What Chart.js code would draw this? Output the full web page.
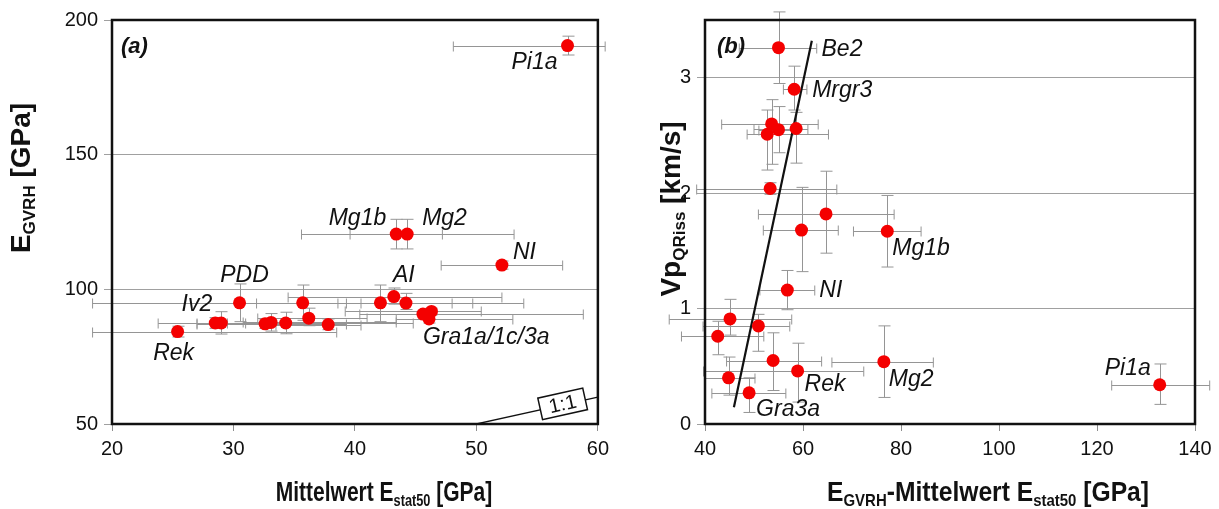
<!DOCTYPE html>
<html>
<head>
<meta charset="utf-8">
<script src="https://cdn.jsdelivr.net/npm/chart.js@4.4.1/dist/chart.umd.min.js"></script>
<style>
  body { margin: 0; background: #fff; }
  .panel { position: absolute; top: 0; height: 509px; }
</style>
</head>
<body>
<div class="panel" style="left:0;width:615px"><canvas id="chartA" width="615" height="509"></canvas></div>
<div class="panel" style="left:610px;width:609px"><canvas id="chartB" width="609" height="509"></canvas></div>

<script>
// ---- panel (a): E_GVRH gegen Mittelwert E_stat50 ----
const xA   = [57.5, 43.4, 44.3, 52.1, 43.2, 30.5, 35.7, 42.1, 44.2, 45.6, 46.3, 46.1, 28.5, 29.0, 32.6, 33.1, 34.3, 36.2, 37.8, 25.4];
const yA   = [190.5, 120.5, 120.5, 109.0, 97.3, 95.0, 95.0, 95.0, 94.9, 90.8, 91.8, 89.0, 87.5, 87.5, 87.2, 87.7, 87.5, 89.3, 86.9, 84.3];
const xLoA = [48.1, 39.6, 35.6, 47.1, 34.5, 18.4, 31.9, 39.3, 40.5, 40.4, 39.2, 43.4, 23.8, 27.0, 27.0, 30.8, 29.5, 32.0, 33.5, 18.4];
const xHiA = [60.6, 47.2, 53.1, 57.1, 52.1, 38.6, 49.7, 53.9, 48.0, 58.8, 50.4, 53.0, 34.5, 31.0, 39.3, 43.4, 44.8, 41.0, 40.5, 38.5];
const yLoA = [187, 115, 115, 107.5, 94.5, 88, 88.5, 88, 92.5, 89.5, 90.5, 87.5, 85.5, 83.4, 85.5, 84.5, 83.5, 86.5, 85, 82.3];
const yHiA = [194, 126, 126, 110.5, 100.5, 102, 101.6, 101.6, 98.5, 92, 93, 90.5, 89.5, 91.7, 89, 91, 91.5, 93, 89, 86.3];
const oneX = [50, 60];
const oneY = [50, 60];

// ---- panel (b): Vp_QRiss gegen E_GVRH - Mittelwert E_stat50 ----
const xB   = [55.0, 58.2, 53.6, 52.7, 55.0, 58.6, 53.3, 64.7, 59.7, 77.2, 56.8, 45.1, 42.6, 50.9, 53.9, 58.9, 76.5, 44.8, 49.0, 132.8];
const yB   = [3.26, 2.90, 2.60, 2.51, 2.55, 2.56, 2.04, 1.82, 1.68, 1.67, 1.16, 0.91, 0.76, 0.85, 0.55, 0.46, 0.54, 0.40, 0.27, 0.34];
const xLoB = [47.0, 56.0, 43.4, 48.6, 51.0, 50.0, 38.3, 50.9, 51.9, 70.3, 51.2, 32.7, 35.2, 39.6, 44.4, 39.7, 65.9, 40.0, 41.4, 123.0];
const xHiB = [62.8, 60.8, 63.1, 65.2, 58.0, 61.0, 66.9, 78.6, 67.2, 84.1, 62.4, 57.7, 52.0, 57.3, 63.8, 72.4, 86.6, 50.2, 56.5, 143.0];
const yLoB = [2.95, 2.72, 2.25, 2.20, 2.35, 2.26, 1.99, 1.48, 1.32, 1.36, 0.99, 0.77, 0.60, 0.63, 0.29, 0.19, 0.23, 0.25, 0.10, 0.17];
const yHiB = [3.57, 3.10, 2.81, 2.72, 2.75, 2.70, 2.09, 2.19, 2.05, 1.98, 1.33, 1.08, 0.89, 0.95, 0.79, 0.70, 0.85, 0.58, 0.40, 0.52];
const fitX = [45.9, 61.8];
const fitY = [0.145, 3.32];

// Beschriftungen (Index des Punktes + Versatz in px)
const labelsA = [
  { i: 0,  t: 'Pi1a', dx: -10, dy: 17, align: 'right' },
  { i: 1,  t: 'Mg1b', dx: -10, dy: -16, align: 'right' },
  { i: 2,  t: 'Mg2', dx: 15, dy: -16, align: 'left' },
  { i: 3,  t: 'NI', dx: 11, dy: -12, align: 'left' },
  { i: 4,  t: 'AI', dx: 10, dy: -21, align: 'center' },
  { i: 5,  t: 'PDD', dx: 5, dy: -27, align: 'center' },
  { i: 12, t: 'Iv2', dx: -3, dy: -18, align: 'right' },
  { i: 19, t: 'Rek', dx: -4, dy: 22, align: 'center' },
  { i: 9,  t: 'Gra1a/1c/3a', dx: 0, dy: 23, align: 'left' }
];
const labelsB = [
  { i: 0,  t: 'Be2', dx: 43, dy: 2, align: 'left' },
  { i: 1,  t: 'Mrgr3', dx: 18, dy: 1, align: 'left' },
  { i: 9,  t: 'Mg1b', dx: 5, dy: 17, align: 'left' },
  { i: 10, t: 'NI', dx: 32, dy: 1, align: 'left' },
  { i: 15, t: 'Rek', dx: 7, dy: 14, align: 'left' },
  { i: 16, t: 'Mg2', dx: 5, dy: 18, align: 'left' },
  { i: 18, t: 'Gra3a', dx: 7, dy: 17, align: 'left' },
  { i: 19, t: 'Pi1a', dx: -9, dy: -16, align: 'right' }
];

const FONT = "'Liberation Sans', Arial, sans-serif";

function pts(xs, ys) {
  return xs.map((v, i) => ({ x: v, y: ys[i] }));
}

// Fehlerbalken mit den Skalen der Grafik zeichnen
function errorBars(xs, ys, xLo, xHi, yLo, yHi) {
  return {
    id: 'errorBars',
    beforeDatasetsDraw(chart) {
      const ctx = chart.ctx, sx = chart.scales.x, sy = chart.scales.y;
      ctx.save();
      ctx.strokeStyle = '#959595';
      ctx.lineWidth = 1;
      ctx.beginPath();
      xs.forEach((v, i) => {
        const px = Math.round(sx.getPixelForValue(v)) + 0.5;
        const py = Math.round(sy.getPixelForValue(ys[i])) + 0.5;
        const l = sx.getPixelForValue(xLo[i]), r = sx.getPixelForValue(xHi[i]);
        const t = sy.getPixelForValue(yHi[i]), b = sy.getPixelForValue(yLo[i]);
        ctx.moveTo(l, py); ctx.lineTo(r, py);
        ctx.moveTo(l, py - 5); ctx.lineTo(l, py + 5);
        ctx.moveTo(r, py - 5); ctx.lineTo(r, py + 5);
        ctx.moveTo(px, t); ctx.lineTo(px, b);
        ctx.moveTo(px - 6, t); ctx.lineTo(px + 6, t);
        ctx.moveTo(px - 6, b); ctx.lineTo(px + 6, b);
      });
      ctx.stroke();
      ctx.restore();
    }
  };
}

function pointLabels(xs, ys, list) {
  return {
    id: 'pointLabels',
    afterDatasetsDraw(chart) {
      const ctx = chart.ctx;
      ctx.save();
      ctx.font = 'italic 23px ' + FONT;
      ctx.fillStyle = '#111';
      ctx.textBaseline = 'middle';
      list.forEach(l => {
        const px = chart.scales.x.getPixelForValue(xs[l.i]);
        const py = chart.scales.y.getPixelForValue(ys[l.i]);
        ctx.textAlign = l.align;
        ctx.fillText(l.t, px + l.dx, py + l.dy);
      });
      ctx.restore();
    }
  };
}

// Text mit Tiefstellung (E_GVRH usw.)
function drawRich(ctx, parts, cx, cy, rot, squash) {
  const big = 'bold 28px ' + FONT, small = 'bold 17px ' + FONT;
  let w = 0;
  const widths = parts.map(p => {
    ctx.font = p.sub ? small : big;
    const m = ctx.measureText(p.t).width;
    w += m;
    return m;
  });
  ctx.save();
  ctx.translate(cx, cy);
  ctx.rotate(rot);
  ctx.scale(squash, 1);
  ctx.fillStyle = '#111';
  ctx.textBaseline = 'middle';
  ctx.textAlign = 'left';
  let x = -w / 2;
  parts.forEach((p, i) => {
    ctx.font = p.sub ? small : big;
    ctx.fillText(p.t, x, p.sub ? 8 : 0);
    x += widths[i];
  });
  ctx.restore();
}

function frameTitles(cfg) {
  return {
    id: 'frameTitles',
    afterDraw(chart) {
      const ctx = chart.ctx, a = chart.chartArea;
      ctx.save();
      ctx.strokeStyle = '#111';
      ctx.lineWidth = 2.5;
      ctx.strokeRect(a.left, a.top, a.right - a.left, a.bottom - a.top);
      ctx.font = 'bold italic 22px ' + FONT;
      ctx.fillStyle = '#111';
      ctx.textBaseline = 'middle';
      ctx.fillText(cfg.letter, a.left + cfg.letterDx, a.top + 27);
      ctx.restore();
      drawRich(ctx, cfg.xTitle, cfg.xPos[0], cfg.xPos[1], 0, cfg.squash);
      drawRich(ctx, cfg.yTitle, cfg.yPos[0], cfg.yPos[1], -Math.PI / 2, 1);
    }
  };
}

// Kasten "1:1" auf der Linie
const oneBox = {
  id: 'oneBox',
  afterDatasetsDraw(chart) {
    const ctx = chart.ctx, sx = chart.scales.x, sy = chart.scales.y;
    const x1 = sx.getPixelForValue(oneX[0]), y1 = sy.getPixelForValue(oneY[0]);
    const x2 = sx.getPixelForValue(oneX[1]), y2 = sy.getPixelForValue(oneY[1]);
    const ang = Math.atan2(y2 - y1, x2 - x1);
    const cx = sx.getPixelForValue(57.1), cy = sy.getPixelForValue(57.1);
    ctx.save();
    ctx.translate(cx, cy - 1);
    ctx.rotate(ang);
    ctx.fillStyle = '#fff';
    ctx.strokeStyle = '#111';
    ctx.lineWidth = 1.5;
    ctx.fillRect(-23, -11, 46, 22);
    ctx.strokeRect(-23, -11, 46, 22);
    ctx.fillStyle = '#111';
    ctx.font = '20px ' + FONT;
    ctx.textAlign = 'center';
    ctx.textBaseline = 'middle';
    ctx.fillText('1:1', 0, 1);
    ctx.restore();
  }
};

function axes(xmin, xmax, xstep, ymin, ymax, ystep, yWidth) {
  const tickFont = { family: FONT, size: 20 };
  return {
    x: {
      type: 'linear', min: xmin, max: xmax,
      ticks: { stepSize: xstep, font: tickFont, color: '#111', padding: 6, maxRotation: 0 },
      grid: { drawOnChartArea: false, tickLength: 7, color: '#8e8e8e' },
      border: { display: false },
      afterFit: s => { s.height = 85; }
    },
    y: {
      type: 'linear', min: ymin, max: ymax,
      ticks: { stepSize: ystep, font: tickFont, color: '#111', padding: 6, includeBounds: false },
      grid: { tickLength: 8, color: '#a0a0a0' },
      border: { display: false },
      afterFit: s => { s.width = yWidth; }
    }
  };
}

const baseOpts = {
  responsive: false,
  animation: false,
  events: [],
  plugins: { legend: { display: false }, tooltip: { enabled: false } }
};

new Chart(document.getElementById('chartA'), {
  type: 'scatter',
  data: {
    datasets: [
      { data: pts(xA, yA), backgroundColor: '#f40000', pointRadius: 6.5, borderWidth: 0, order: 0 },
      { data: pts(oneX, oneY), showLine: true, borderColor: '#111', borderWidth: 1.3, pointRadius: 0, order: 1 }
    ]
  },
  options: Object.assign({}, baseOpts, {
    layout: { padding: { left: 0, right: 0, top: 20, bottom: 0 } },
    scales: axes(20, 60, 10, 50, 200, 50, 112)
  }),
  plugins: [
    errorBars(xA, yA, xLoA, xHiA, yLoA, yHiA),
    pointLabels(xA, yA, labelsA),
    oneBox,
    frameTitles({
      letter: '(a)', letterDx: 9, squash: 0.75,
      xTitle: [{ t: 'Mittelwert E' }, { t: 'stat50', sub: true }, { t: ' [GPa]' }],
      yTitle: [{ t: 'E' }, { t: 'GVRH', sub: true }, { t: ' [GPa]' }],
      xPos: [384, 493], yPos: [22, 178]
    })
  ]
});

new Chart(document.getElementById('chartB'), {
  type: 'scatter',
  data: {
    datasets: [
      { data: pts(xB, yB), backgroundColor: '#f40000', pointRadius: 6.5, borderWidth: 0, order: 0 },
      { data: pts(fitX, fitY), showLine: true, borderColor: '#111', borderWidth: 2.2, pointRadius: 0, order: 1 }
    ]
  },
  options: Object.assign({}, baseOpts, {
    layout: { padding: { left: 0, right: 24, top: 20, bottom: 0 } },
    scales: axes(40, 140, 20, 0, 3.5, 1, 95)
  }),
  plugins: [
    errorBars(xB, yB, xLoB, xHiB, yLoB, yHiB),
    pointLabels(xB, yB, labelsB),
    frameTitles({
      letter: '(b)', letterDx: 12, squash: 0.88,
      xTitle: [{ t: 'E' }, { t: 'GVRH', sub: true }, { t: '-Mittelwert E' }, { t: 'stat50', sub: true }, { t: ' [GPa]' }],
      yTitle: [{ t: 'Vp' }, { t: 'QRiss', sub: true }, { t: ' [km/s]' }],
      xPos: [378, 493], yPos: [62, 209]
    })
  ]
});
</script>
</body>
</html>
